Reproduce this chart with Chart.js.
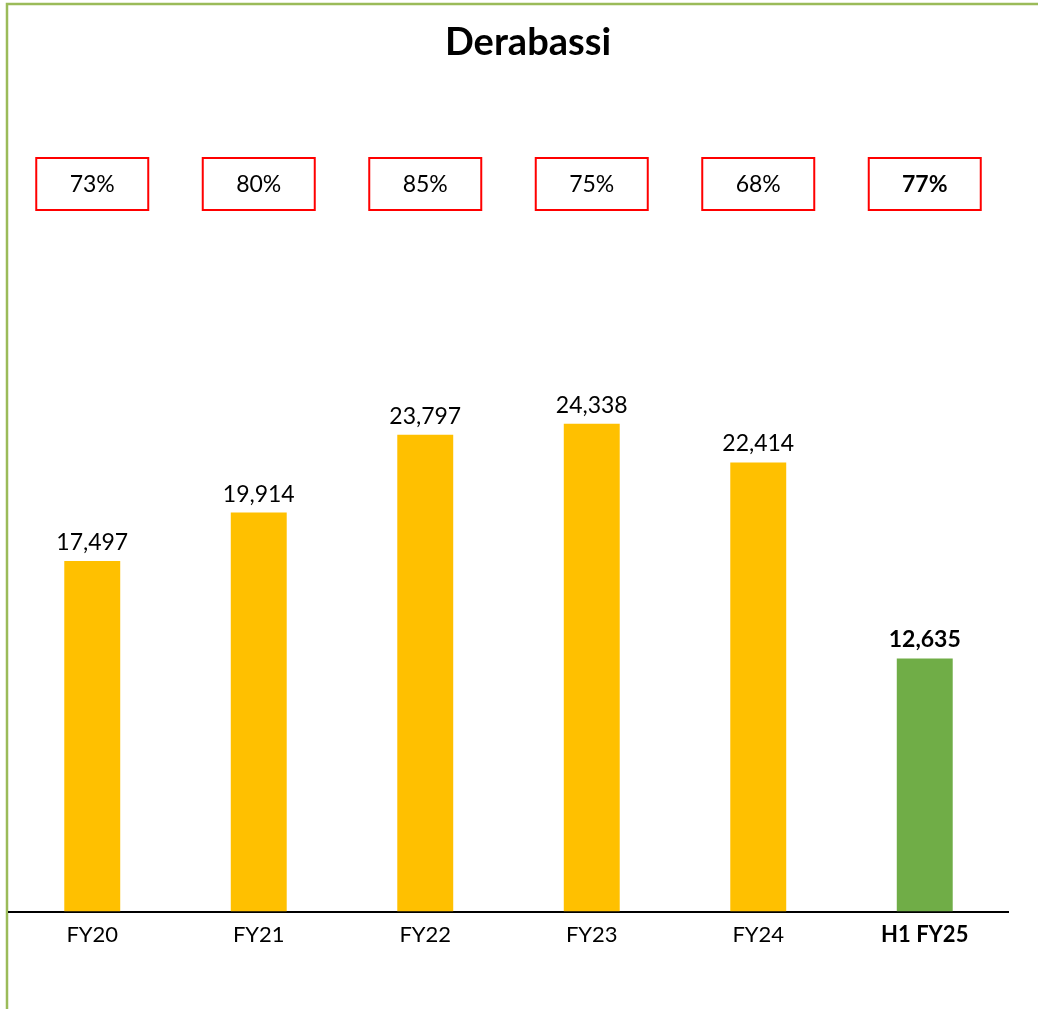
<!DOCTYPE html>
<html>
<head>
<meta charset="utf-8">
<script src="https://cdn.jsdelivr.net/npm/chart.js@4"></script>
<style>
  html, body { margin: 0; padding: 0; background: #fff; }
  #wrap { width: 1038px; height: 1009px; }
</style>
</head>
<body>
<div id="wrap"><canvas id="plantChart" width="1038" height="1009"></canvas></div>
<script>
// chart data
const categories = ['FY20', 'FY21', 'FY22', 'FY23', 'FY24', 'H1 FY25'];
const volumes = [17497, 19914, 23797, 24338, 22414, 12635];
const utilisation = ['73%', '80%', '85%', '75%', '68%', '77%'];
const barColors = ['#FFC000', '#FFC000', '#FFC000', '#FFC000', '#FFC000', '#70AD47'];
const highlightIndex = 5; // last period is shown in bold
const chartTitle = 'Derabassi';

const FONT = 'Lato, "Open Sans", sans-serif';

// green frame on the top and left edge, plus the title
const framePlugin = {
    id: 'frame',
    beforeDraw(chart) {
        const c = chart.ctx;
        c.save();
        c.strokeStyle = '#9BBB59';
        c.lineWidth = 2.5;
        c.beginPath();
        c.moveTo(7, chart.height);
        c.lineTo(7, 4);
        c.lineTo(chart.width, 4);
        c.stroke();

        c.fillStyle = '#000';
        c.font = 'bold 38px ' + FONT;
        c.textAlign = 'center';
        c.textBaseline = 'alphabetic';
        c.fillText(chartTitle, 528, 55);
        c.restore();
    }
};

// value labels above the bars + utilisation boxes
const labelPlugin = {
    id: 'labels',
    afterDatasetsDraw(chart) {
        const c = chart.ctx;
        const meta = chart.getDatasetMeta(0);
        c.save();
        c.fillStyle = '#000';
        c.textAlign = 'center';
        meta.data.forEach((bar, i) => {
            const bold = i === highlightIndex ? 'bold ' : '';
            c.font = bold + '23px ' + FONT;
            c.textBaseline = 'alphabetic';
            c.fillText(volumes[i].toLocaleString('en-US'), bar.x, bar.y - 11);

            // utilisation box
            const w = 112, h = 52, top = 158;
            c.strokeStyle = '#FF0000';
            c.lineWidth = 2;
            c.strokeRect(bar.x - w / 2, top, w, h);
            c.textBaseline = 'middle';
            c.fillText(utilisation[i], bar.x, top + h / 2 + 1);
        });
        c.restore();
    }
};

const ctx = document.getElementById('plantChart').getContext('2d');
const chart = new Chart(ctx, {
    type: 'bar',
    data: {
        labels: categories,
        datasets: [{
            data: volumes,
            backgroundColor: barColors,
            barPercentage: 0.336,
            categoryPercentage: 1
        }]
    },
    options: {
        responsive: false,
        animation: false,
        layout: {
            padding: { left: 9, right: 30, top: 110, bottom: 51 }
        },
        plugins: {
            legend: { display: false },
            tooltip: { enabled: false },
            title: { display: false }
        },
        scales: {
            x: {
                grid: { display: false, drawTicks: false },
                border: { display: true, color: '#000', width: 2 },
                ticks: {
                    color: '#000',
                    padding: 10,
                    font: (c) => ({
                        family: FONT,
                        size: 22,
                        weight: c.index === highlightIndex ? 'bold' : 'normal'
                    })
                }
            },
            y: {
                display: false,
                min: 0,
                max: 40000
            }
        }
    },
    plugins: [framePlugin, labelPlugin]
});
</script>
</body>
</html>
